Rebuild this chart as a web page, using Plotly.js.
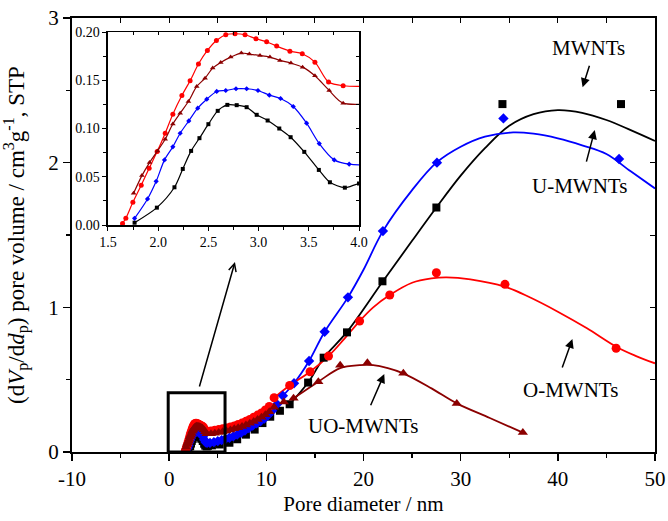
<!DOCTYPE html>
<html>
<head>
<meta charset="utf-8">
<script src="https://cdn.plot.ly/plotly-3.0.1.min.js"></script>
<style>html,body{margin:0;padding:0;background:#fff;}#chart{width:668px;height:521px;}</style>
</head>
<body>
<div id="chart"></div>
<script>
// ---- data ----
var mwntX = [1.765,1.987,2.162,2.245,2.328,2.411,2.500,2.593,2.689,2.782,2.881,2.981,3.090,3.206,3.319,3.455,3.600,3.710,3.859,4.0,4.4,5.2,6.2,7.0,7.9,8.8,9.6,10.4,11.4,12.4,14.3,15.9,18.3,21.95,27.5,34.3,46.5];
var mwntY = [0.0024,0.018,0.0391,0.0581,0.0768,0.0900,0.1045,0.1183,0.1245,0.1242,0.1221,0.1142,0.1083,0.1000,0.0910,0.0758,0.0571,0.0443,0.0387,0.043,0.046,0.052,0.064,0.088,0.12,0.155,0.2,0.244,0.285,0.33,0.48,0.652,0.827,1.18,1.69,2.405,2.405];

var umwntX = [1.765,1.894,1.980,2.063,2.146,2.219,2.305,2.394,2.484,2.583,2.673,2.775,2.881,2.994,3.107,3.219,3.345,3.478,3.604,3.753,3.902,4.2,4.6,5.0,5.4,5.8,6.2,6.6,7.0,7.4,7.8,8.2,8.6,9.0,9.4,9.8,10.2,10.6,11.1,11.7,12.85,14.4,16.0,18.4,22.0,27.56,34.4,46.3];
var umwntY = [0.0069,0.027,0.0453,0.0675,0.081,0.0951,0.1079,0.1211,0.1304,0.1384,0.1394,0.1412,0.1412,0.1394,0.1346,0.1311,0.1228,0.1055,0.0844,0.0675,0.063,0.063,0.068,0.075,0.082,0.09,0.098,0.108,0.12,0.133,0.148,0.165,0.182,0.198,0.213,0.232,0.255,0.285,0.33,0.389,0.475,0.629,0.831,1.069,1.527,2.0,2.306,2.025];

var omwntX = [1.645,1.678,1.748,1.831,1.910,1.990,2.070,2.146,2.236,2.318,2.401,2.490,2.580,2.673,2.765,2.865,2.974,3.080,3.180,3.312,3.435,3.561,3.697,3.842,4.3,4.7,5.1,5.5,5.9,6.3,6.7,7.1,7.5,7.9,8.3,8.7,9.1,9.5,9.9,10.3,10.8,12.4,14.5,16.4,19.6,22.7,27.5,34.56,46.0];
var omwntY = [0.0017,0.007,0.0235,0.0412,0.0588,0.0761,0.0952,0.1149,0.1342,0.1495,0.1668,0.1809,0.1913,0.1972,0.1982,0.1972,0.1930,0.1899,0.1854,0.1802,0.1775,0.1688,0.1481,0.1443,0.145,0.15,0.155,0.16,0.166,0.173,0.18,0.19,0.2,0.212,0.225,0.24,0.255,0.27,0.29,0.315,0.375,0.46,0.555,0.663,0.905,1.085,1.239,1.159,0.717];

var uomwntX = [1.755,1.838,1.914,1.993,2.070,2.146,2.219,2.301,2.384,2.467,2.543,2.623,2.722,2.828,2.908,3.014,3.113,3.213,3.322,3.438,3.561,3.703,3.842,4.3,4.7,5.1,5.5,5.9,6.3,6.7,7.1,7.5,7.9,8.3,8.7,9.1,9.5,9.9,10.3,10.8,11.8,12.8,15.35,17.6,20.4,24.1,29.6,36.4];
var uomwntY = [0.0329,0.0512,0.0647,0.0768,0.0889,0.1048,0.1159,0.128,0.1436,0.1522,0.1626,0.1685,0.174,0.1782,0.1771,0.1757,0.174,0.1706,0.1678,0.1636,0.1546,0.1394,0.1263,0.127,0.13,0.135,0.14,0.146,0.152,0.16,0.168,0.177,0.187,0.198,0.21,0.224,0.24,0.258,0.278,0.31,0.345,0.371,0.486,0.60,0.617,0.544,0.336,0.134];

// fitted curves in the main panel
var mwntFitX = [12.4,14.3,15.9,18.3,22,25,27.5,30,32.5,35,37.5,40,42.5,45,47.5,50];
var mwntFitY = [0.33,0.48,0.65,0.83,1.18,1.46,1.69,1.91,2.10,2.255,2.335,2.363,2.345,2.295,2.225,2.15];
var umwntFitX = [11.7,12.85,14.4,16.0,18.4,20,22,25,27.5,30,32.5,35.4,37.5,40,42.5,45,47.5,50];
var umwntFitY = [0.389,0.475,0.629,0.831,1.069,1.26,1.527,1.81,2.0,2.11,2.18,2.209,2.2,2.168,2.12,2.06,1.94,1.822];
var omwntFitX = [10.8,12.4,14.5,16.4,18,19.6,21,22.7,25,27,28.55,31,34.56,37,40,43,46,48,50];
var omwntFitY = [0.375,0.46,0.555,0.663,0.78,0.905,1.0,1.085,1.17,1.2,1.207,1.193,1.142,1.073,0.97,0.855,0.728,0.665,0.613];
var uomwntFitX = [12.8,15.35,17.6,19.6,21,22.5,24.1,27,29.6,33,36.4];
var uomwntFitY = [0.371,0.486,0.58,0.60,0.60,0.58,0.544,0.44,0.336,0.235,0.134];

// tick labels
var mainXTicks = [-10,0,10,20,30,40,50];
var mainXTickText = ['-10','0','10','20','30','40','50'];

var seriesNames = ['MWNTs','U-MWNTs','O-MWNTs','UO-MWNTs'];
var colors = ['#000000','#0000ff','#ff0000','#8b0000'];
var symbols = ['square','diamond','circle','triangle-up'];

var FONT = 'Liberation Serif, Times New Roman, serif';
var series = [[mwntX,mwntY,mwntFitX,mwntFitY],[umwntX,umwntY,umwntFitX,umwntFitY],[omwntX,omwntY,omwntFitX,omwntFitY],[uomwntX,uomwntY,uomwntFitX,uomwntFitY]];
var mainSizes = [8,8,9,9];
var insetSizes = [4,4,5,5];

var traces = [];
series.forEach(function(s,i){
  traces.push({x:s[2],y:s[3],mode:'lines',line:{color:colors[i],width:1.8,shape:'spline'},xaxis:'x',yaxis:'y',hoverinfo:'skip',showlegend:false});
});
series.forEach(function(s,i){
  traces.push({x:s[0],y:s[1],mode:'markers',name:seriesNames[i],marker:{color:colors[i],symbol:symbols[i],size:mainSizes[i]},xaxis:'x',yaxis:'y',showlegend:false});
});
series.forEach(function(s,i){
  traces.push({x:s[0],y:s[1],mode:'lines+markers',line:{color:colors[i],width:1.2,shape:'spline',smoothing:0.8},marker:{color:colors[i],symbol:symbols[i],size:insetSizes[i]},xaxis:'x2',yaxis:'y2',showlegend:false});
});
traces.push({x:[],y:[],xaxis:'x3',yaxis:'y3',showlegend:false});
traces.push({x:[],y:[],xaxis:'x4',yaxis:'y4',showlegend:false});

function noAx(o){return Object.assign({showgrid:false,zeroline:false,showticklabels:false,showline:false,ticks:'inside',tickcolor:'#000'},o);}
function arrow(x,y,ax,ay,head,size){
  return {xref:'x',yref:'y',axref:'x',ayref:'y',x:x,y:y,ax:ax,ay:ay,text:'',showarrow:true,arrowhead:head,arrowsize:size,arrowwidth:1.5,arrowcolor:'#000',standoff:0};
}

var layout = {
  width:668,height:521,
  margin:{l:72,r:13,t:18,b:69,pad:0},
  paper_bgcolor:'#fff',plot_bgcolor:'#fff',
  font:{family:FONT,color:'#000',size:21},
  showlegend:false,
  xaxis:{domain:[0,1],range:[-10,50],tickmode:'array',tickvals:mainXTicks,ticktext:mainXTickText,ticks:'outside',ticklen:7,tickwidth:1.5,tickcolor:'#000',
    minor:{dtick:5,tick0:-10,ticks:'outside',ticklen:4,tickwidth:1.2,tickcolor:'#000'},
    showline:true,linewidth:2,linecolor:'#000',mirror:true,showgrid:false,zeroline:false,
    tickfont:{size:21},title:{text:'Pore diameter / nm',font:{size:21},standoff:6},anchor:'y'},
  yaxis:{domain:[0,1],range:[0,3],dtick:1,ticks:'outside',ticklen:7,tickwidth:1.5,tickcolor:'#000',
    minor:{dtick:0.5,ticks:'outside',ticklen:4,tickwidth:1.2,tickcolor:'#000'},
    showline:true,linewidth:2,linecolor:'#000',mirror:true,showgrid:false,zeroline:false,
    tickfont:{size:21},title:{text:'(d<i>V</i><sub>p</sub>/d<i>d</i><sub>p</sub>) pore volume / cm<sup>3</sup>g<sup>-1</sup>, STP',font:{size:23}},anchor:'x'},
  xaxis3:noAx({overlaying:'x',side:'top',anchor:'y',range:[-10,50],tick0:-10,dtick:5,ticklen:5,tickwidth:1}),
  yaxis3:noAx({overlaying:'y',side:'right',anchor:'x',range:[0,3],dtick:0.5,ticklen:5,tickwidth:1}),
  xaxis2:{domain:[0.0617,0.4923],anchor:'y2',range:[1.5,4],tick0:1.5,dtick:0.5,tickformat:'.1f',ticks:'outside',ticklen:4,tickwidth:1,tickcolor:'#000',
    minor:{dtick:0.25,ticks:'outside',ticklen:3,tickwidth:1,tickcolor:'#000'},
    showline:true,linewidth:1.5,linecolor:'#000',mirror:true,showgrid:false,zeroline:false,tickfont:{size:14}},
  yaxis2:{domain:[0.523,0.9677],anchor:'x2',range:[0,0.2],dtick:0.05,tickformat:'.2f',ticks:'outside',ticklen:4,tickwidth:1,tickcolor:'#000',
    minor:{dtick:0.025,ticks:'outside',ticklen:3,tickwidth:1,tickcolor:'#000'},
    showline:true,linewidth:1.5,linecolor:'#000',mirror:true,showgrid:false,zeroline:false,tickfont:{size:14}},
  xaxis4:noAx({overlaying:'x2',side:'top',anchor:'y2',range:[1.5,4],tick0:1.5,dtick:0.25,ticklen:3,tickwidth:1}),
  yaxis4:noAx({overlaying:'y2',side:'right',anchor:'x2',range:[0,0.2],dtick:0.025,ticklen:3,tickwidth:1}),
  shapes:[{type:'rect',xref:'x',yref:'y',x0:-0.1,x1:5.75,y0:0,y1:0.41,line:{color:'#000',width:3},layer:'above'}],
  annotations:[
    {xref:'x',yref:'y',x:43.2,y:2.79,text:'MWNTs',showarrow:false,font:{size:21}},
    {xref:'x',yref:'y',x:42.2,y:1.838,text:'U-MWNTs',showarrow:false,font:{size:21}},
    {xref:'x',yref:'y',x:41.3,y:0.428,text:'O-MWNTs',showarrow:false,font:{size:21}},
    {xref:'x',yref:'y',x:20.05,y:0.18,text:'UO-MWNTs',showarrow:false,font:{size:21}},
    arrow(42.55,2.522,43.3,2.681,2,1.2),
    arrow(43.8,2.225,42.9,1.997,2,1.2),
    arrow(41.5,0.781,40.4,0.574,2,1.2),
    arrow(22.14,0.539,20.67,0.313,2,1.2),
    arrow(6.77,1.313,3.07,0.442,5,1)
  ]
};

Plotly.newPlot('chart',traces,layout,{staticPlot:true,displayModeBar:false});
</script>
</body>
</html>
